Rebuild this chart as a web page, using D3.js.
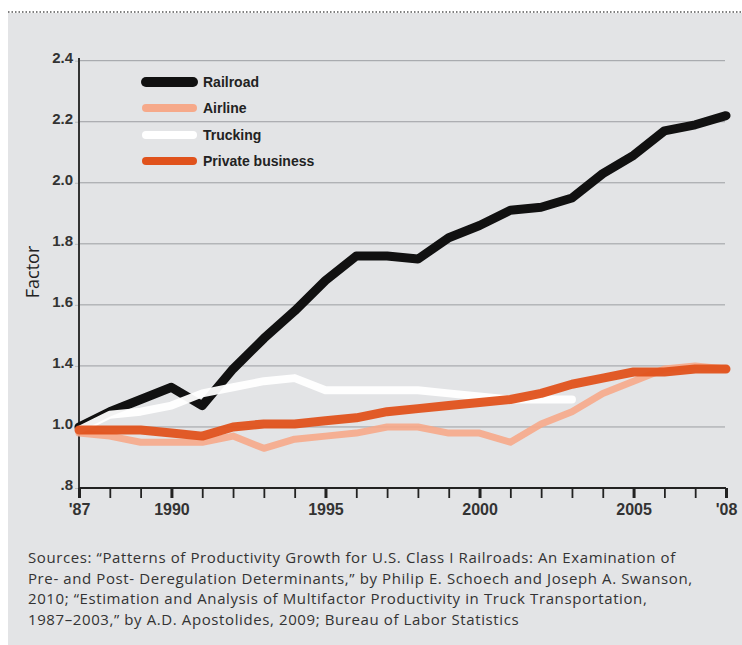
<!DOCTYPE html>
<html><head><meta charset="utf-8">
<script src="https://cdn.jsdelivr.net/npm/d3@7"></script>
<style>
body{margin:0;background:#fff;}
svg{display:block;}
</style></head>
<body>
<script>
const years = d3.range(1987, 2009);
const railroad = [1.00,1.05,1.09,1.13,1.07,1.19,1.29,1.38,1.48,1.56,1.56,1.55,1.62,1.66,1.71,1.72,1.75,1.83,1.89,1.97,1.99,2.02];
const airline  = [0.98,0.97,0.95,0.95,0.95,0.97,0.93,0.96,0.97,0.98,1.00,1.00,0.98,0.98,0.95,1.01,1.05,1.11,1.15,1.19,1.20,1.19];
const trucking = [0.99,1.04,1.05,1.07,1.11,1.13,1.15,1.16,1.12,1.12,1.12,1.12,1.11,1.10,1.09,1.09,1.09];
const privateBiz = [0.99,0.99,0.99,0.98,0.97,1.00,1.01,1.01,1.02,1.03,1.05,1.06,1.07,1.08,1.09,1.11,1.14,1.16,1.18,1.18,1.19,1.19];
const yTicks = [0.8,1.0,1.2,1.4,1.6,1.8,2.0,2.2];
const yTickLabels = [".8","1.0","1.4","1.6","1.8","2.0","2.2","2.4"];
const xTickLabels = {1987:"'87",1990:"1990",1995:"1995",2000:"2000",2005:"2005",2008:"'08"};
const seriesNames = ["Railroad","Airline","Trucking","Private business"];
const seriesColors = ["#111111","#f6a98a","#ffffff","#e0521c"];
const sourceLines = [
 "Sources: \u201cPatterns of Productivity Growth for U.S. Class I Railroads: An Examination of",
 "Pre- and Post- Deregulation Determinants,\u201d by Philip E. Schoech and Joseph A. Swanson,",
 "2010; \u201cEstimation and Analysis of Multifactor Productivity in Truck Transportation,",
 "1987\u20132003,\u201d by A.D. Apostolides, 2009; Bureau of Labor Statistics"
];

const W=742,H=645;
const svg=d3.select("body").append("svg").attr("width",W).attr("height",H);
svg.append("rect").attr("x",8).attr("y",13).attr("width",W-8).attr("height",H-13).attr("fill","#e3e4e6");
svg.append("line").attr("x1",8).attr("x2",W).attr("y1",12).attr("y2",12)
  .attr("stroke","#555").attr("stroke-width",1.5).attr("stroke-dasharray","1.5,2");

const x=d3.scaleLinear().domain([1987,2008]).range([79,726]);
const y=d3.scaleLinear().domain([0.8,2.2]).range([488,60.7]);

const condensed="'Liberation Sans Narrow','Arial Narrow',sans-serif";

// gridlines
svg.append("g").selectAll("line").data(yTicks.slice(1)).join("line")
  .attr("x1",79).attr("x2",725).attr("y1",d=>y(d)).attr("y2",d=>y(d))
  .attr("stroke","#9c9ea2").attr("stroke-width",1);

// y axis
const yAxis=d3.axisLeft(y).tickValues(yTicks).tickSize(4)
  .tickFormat((d,i)=>yTickLabels[i]);
const gy=svg.append("g").attr("transform","translate(79,0)").call(yAxis);
gy.select(".domain").remove();
gy.selectAll(".tick line").attr("stroke","#bbb");
gy.selectAll("text").attr("font-family",condensed).attr("font-weight","bold")
  .attr("font-size",15).attr("fill","#333").attr("x",-6).attr("dy","0.1em");
svg.append("line").attr("x1",79).attr("x2",79).attr("y1",58).attr("y2",497)
  .attr("stroke","#333").attr("stroke-width",2);

// x axis
const xAxis=d3.axisBottom(x).tickValues(years).tickSize(10)
  .tickFormat(d=>xTickLabels[d]||"");
const gx=svg.append("g").attr("transform","translate(0,488)").call(xAxis);
gx.select(".domain").attr("stroke","#222").attr("stroke-width",2).attr("d","M79,0H726");
gx.selectAll(".tick line").attr("stroke","#222")
  .attr("stroke-width",d=>xTickLabels[d]?3:1.8);
gx.selectAll("text").attr("font-family",condensed).attr("font-weight","bold")
  .attr("font-size",16).attr("fill","#333").attr("y",16).attr("dy","0.71em");

// y title
svg.append("text").attr("transform","translate(39,272) rotate(-90)")
  .attr("text-anchor","middle").attr("font-family","'Open Sans',sans-serif")
  .attr("font-size",18).attr("fill","#222").text("Factor");

// lines
const line=d3.line().x((d,i)=>x(years[i])).y(d=>y(d)).curve(d3.curveLinear);
const drawOrder=[[airline,1,7,0.9],[railroad,0,9,1],[trucking,2,8,0.95],[privateBiz,3,9,0.95]];
drawOrder.forEach(([data,ci,w,op])=>{
  svg.append("path").datum(data).attr("d",line).attr("fill","none")
    .attr("stroke",seriesColors[ci]).attr("stroke-width",w).attr("stroke-opacity",op)
    .attr("stroke-linejoin","round").attr("stroke-linecap","round");
});

// legend
const lg=svg.append("g");
const legY=[82,108,135,161];
seriesNames.forEach((n,i)=>{
  lg.append("line").attr("x1",146).attr("x2",193).attr("y1",legY[i]).attr("y2",legY[i])
    .attr("stroke",seriesColors[i]).attr("stroke-width",i===0?10:8).attr("stroke-linecap","round");
  lg.append("text").attr("x",203).attr("y",legY[i]).attr("dy","0.35em")
    .attr("font-family",condensed).attr("font-weight","bold").attr("font-size",14)
    .attr("fill","#222").text(n);
});

// sources
svg.append("g").selectAll("text").data(sourceLines).join("text")
  .attr("x",28).attr("y",(d,i)=>563+i*20.6)
  .attr("font-family","'Open Sans',sans-serif").attr("font-size",15)
  .attr("letter-spacing",0.6).attr("fill","#333")
  .text(d=>d);
</script>
</body></html>
